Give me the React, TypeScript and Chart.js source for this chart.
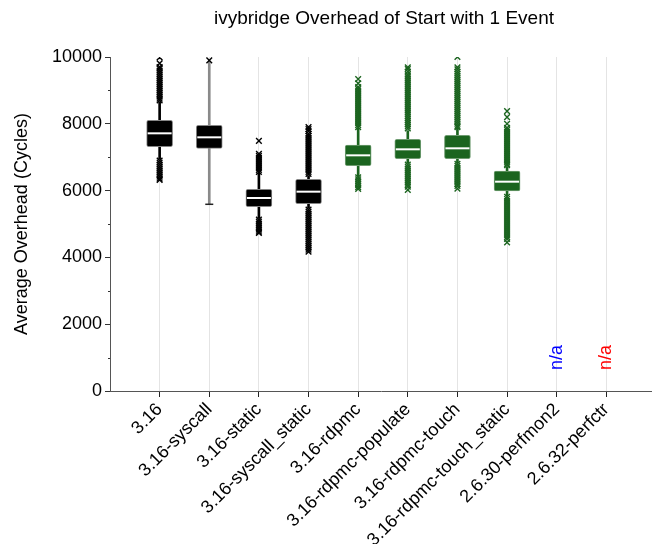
import React, { useEffect, useRef } from "react";
import { Chart, registerables } from "chart.js";

Chart.register(...registerables);

const categories = [
  "3.16",
  "3.16-syscall",
  "3.16-static",
  "3.16-syscall_static",
  "3.16-rdpmc",
  "3.16-rdpmc-populate",
  "3.16-rdpmc-touch",
  "3.16-rdpmc-touch_static",
  "2.6.30-perfmon2",
  "2.6.32-perfctr",
];

const q1 = [7315, 7265, 5518, 5608, 6746, 6955, 6955, 5988, null, null];
const medians = [7715, 7595, 5778, 5968, 7056, 7236, 7266, 6267, null, null];
const q3 = [8105, 7955, 6040, 6335, 7365, 7535, 7655, 6587, null, null];
const whiskerLow = [6940, 5590, 5170, 5470, 6437, 6817, 6836, 5848, null, null];
const whiskerHigh = [8660, 9880, 6520, 6450, 7864, 7794, 7864, 6716, null, null];

const outliers316 = [9990, 9810, 9700, 9650, 9590, 9530, 9470, 9410, 9350, 9290, 9230, 9170, 9110, 9050, 8990, 8930, 8870, 8810, 8750, 8700,
  6900, 6840, 6780, 6720, 6660, 6600, 6540, 6480, 6420, 6360, 6320];
const outliersSyscall = [9900];
const outliersStatic = [7490, 7100, 7040, 6980, 6920, 6860, 6800, 6740, 6680, 6620, 6560,
  5130, 5070, 5010, 4950, 4890, 4830, 4770, 4730];
const outliersSyscallStatic = [7900, 7840, 7780, 7700, 7640, 7580, 7520, 7460, 7400, 7340, 7280, 7220, 7160, 7100, 7040, 6980, 6920, 6860, 6800, 6740, 6680, 6620, 6560, 6500,
  5430, 5370, 5310, 5250, 5190, 5130, 5070, 5010, 4950, 4890, 4830, 4770, 4710, 4650, 4590, 4530, 4470, 4410, 4350, 4290, 4230, 4170];
const outliersRdpmc = [9340, 9210, 9100, 9040, 8980, 8920, 8860, 8800, 8740, 8680, 8620, 8560, 8500, 8440, 8380, 8320, 8260, 8200, 8140, 8080, 8020, 7960, 7900,
  6400, 6340, 6280, 6220, 6160, 6100, 6050];
const outliersPopulate = [9690, 9640, 9560, 9480, 9420, 9360, 9300, 9240, 9180, 9120, 9060, 9000, 8940, 8880, 8820, 8760, 8700, 8640, 8580, 8520, 8460, 8400, 8340, 8280, 8220, 8160, 8100, 8040, 7980, 7920, 7860,
  6780, 6720, 6660, 6600, 6540, 6480, 6420, 6360, 6300, 6240, 6180, 6120, 6020];
const outliersTouch = [10000, 9690, 9630, 9560, 9500, 9440, 9380, 9320, 9260, 9200, 9140, 9080, 9020, 8960, 8900, 8840, 8780, 8720, 8660, 8600, 8540, 8480, 8420, 8360, 8300, 8240, 8180, 8120, 8060, 8000, 7940, 7900,
  6800, 6740, 6680, 6620, 6560, 6500, 6440, 6380, 6320, 6260, 6200, 6140, 6060];
const outliersTouchStatic = [8380, 8200, 8000, 7880, 7820, 7760, 7700, 7640, 7580, 7520, 7460, 7400, 7340, 7280, 7220, 7160, 7100, 7040, 6980, 6920, 6860, 6800, 6760,
  5810, 5750, 5690, 5630, 5570, 5510, 5450, 5390, 5330, 5270, 5210, 5150, 5090, 5030, 4970, 4910, 4850, 4790, 4730, 4670, 4610, 4550, 4450];

const outlierGroupsBlack = [outliers316, outliersSyscall, outliersStatic, outliersSyscallStatic];
const outlierGroupsGreen = [outliersRdpmc, outliersPopulate, outliersTouch, outliersTouchStatic];

const naCategories = [8, 9];
const naText = ["n/a", "n/a"];

const yTicksMax = 10000;

const BLACK = "#000000";
const GREEN = "#1b641f";
const FONT = "'Liberation Sans', Arial, Helvetica, sans-serif";

export default function App() {
  const ref = useRef<HTMLCanvasElement | null>(null);

  useEffect(() => {
    if (!ref.current) return;
    const boxColor = (i: number) => (i < 4 ? BLACK : GREEN);
    const idx = categories.map((_, i) => i).filter((i) => q1[i] != null);

    const whiskerColor = (i: number) => (i === 1 ? "#8a8a8a" : boxColor(i));

    const boxes = idx.map((i) => ({ x: i + 1, y: [q1[i] as number, q3[i] as number] }));
    const upperW = idx.map((i) => ({ x: i + 1, y: [q3[i] as number, whiskerHigh[i] as number] }));
    const lowerW = idx.map((i) => ({ x: i + 1, y: [whiskerLow[i] as number, q1[i] as number] }));
    const meds = idx.map((i) => ({ x: i + 1, y: medians[i] as number }));
    const caps = [{ x: 2, y: whiskerLow[1] as number }];

    const blackPts: { x: number; y: number }[] = [];
    outlierGroupsBlack.forEach((arr, g) => arr.forEach((v) => blackPts.push({ x: g + 1, y: v })));
    const greenPts: { x: number; y: number }[] = [];
    outlierGroupsGreen.forEach((arr, g) => arr.forEach((v) => greenPts.push({ x: g + 5, y: v })));

    const extras = {
      id: "extras",
      afterDraw(chart: any) {
        const { ctx, chartArea, scales } = chart;
        const xs = scales.x;
        const ys = scales.y;
        ctx.save();
        // title
        ctx.fillStyle = "#000";
        ctx.font = `19px ${FONT}`;
        ctx.textAlign = "center";
        ctx.textBaseline = "middle";
        ctx.fillText("ivybridge Overhead of Start with 1 Event", (chartArea.left + chartArea.right) / 2 + 3, 19);
        // minor ticks
        ctx.strokeStyle = "#333";
        ctx.lineWidth = 1;
        for (let v = 1000; v < yTicksMax; v += 2000) {
          const y = Math.round(ys.getPixelForValue(v)) + 0.5;
          ctx.beginPath();
          ctx.moveTo(chartArea.left - 2, y);
          ctx.lineTo(chartArea.left, y);
          ctx.stroke();
        }
        // n/a labels
        const naColors = ["#0000ff", "#ff0000"];
        naCategories.forEach((c, k) => {
          const x = xs.getPixelForValue(c + 1);
          const y = ys.getPixelForValue(1000);
          ctx.save();
          ctx.translate(x, y);
          ctx.rotate(-Math.PI / 2);
          ctx.fillStyle = naColors[k];
          ctx.font = `18px ${FONT}`;
          ctx.textAlign = "center";
          ctx.textBaseline = "middle";
          ctx.fillText(naText[k], 0, 0);
          ctx.restore();
        });
        ctx.restore();
      },
    };

    const chart = new Chart(ref.current, {
      type: "bar",
      data: {
        datasets: [
          {
            type: "bar",
            data: upperW as any,
            backgroundColor: idx.map(whiskerColor),
            barThickness: 2,
            grouped: false,
            order: 6,
          } as any,
          {
            type: "bar",
            data: lowerW as any,
            backgroundColor: idx.map(whiskerColor),
            barThickness: 2,
            grouped: false,
            order: 6,
          } as any,
          {
            type: "bar",
            data: boxes as any,
            backgroundColor: idx.map(boxColor),
            borderColor: idx.map((i) => (i < 4 ? "#858585" : "#6f9c71")),
            borderWidth: 1,
            borderRadius: 2,
            borderSkipped: false,
            barThickness: 26,
            grouped: false,
            order: 5,
          } as any,
          {
            type: "line",
            data: meds as any,
            showLine: false,
            pointStyle: "line",
            pointRadius: 12,
            pointBorderColor: "#ffffff",
            pointBorderWidth: 2,
            order: 3,
          } as any,
          {
            type: "line",
            data: caps as any,
            showLine: false,
            pointStyle: "line",
            pointRadius: 4,
            pointBorderColor: "#222",
            pointBorderWidth: 1.5,
            order: 3,
          } as any,
          {
            type: "line",
            data: blackPts as any,
            showLine: false,
            pointStyle: "crossRot",
            pointRadius: 4,
            pointBorderColor: BLACK,
            pointBackgroundColor: BLACK,
            pointBorderWidth: 1.4,
            order: 2,
          } as any,
          {
            type: "line",
            data: greenPts as any,
            showLine: false,
            pointStyle: "crossRot",
            pointRadius: 4,
            pointBorderColor: GREEN,
            pointBackgroundColor: GREEN,
            pointBorderWidth: 1.4,
            order: 2,
          } as any,
        ],
      },
      options: {
        animation: false,
        responsive: false,
        events: [],
        layout: { autoPadding: false, padding: { top: 57, left: 0, right: 0, bottom: 0 } },
        plugins: { legend: { display: false }, tooltip: { enabled: false }, title: { display: false } },
        scales: {
          x: {
            type: "linear",
            min: 0,
            max: 10.92,
            offset: false,
            afterBuildTicks: (scale: any) => {
              scale.ticks = categories.map((_, i) => ({ value: i + 1 }));
            },
            afterFit: (scale: any) => {
              scale.height = 153;
              scale.paddingLeft = 0;
              scale.paddingRight = 0;
            },
            ticks: {
              autoSkip: false,
              maxRotation: 45,
              minRotation: 45,
              color: "#000",
              font: { family: FONT, size: 18 },
              padding: 2,
              callback: (v: any) => categories[Number(v) - 1] ?? "",
            },
            grid: { color: "#e4e4e4", lineWidth: 1, tickLength: 6, tickColor: "#222", offset: false },
            border: { display: true, color: "#555", width: 1 },
          },
          y: {
            type: "linear",
            min: 0,
            max: yTicksMax,
            afterFit: (scale: any) => {
              scale.width = 110;
            },
            ticks: {
              stepSize: 2000,
              color: "#000",
              font: { family: FONT, size: 18 },
              padding: 3,
              callback: (v: any) => String(v),
            },
            grid: { drawOnChartArea: false, tickLength: 5, tickColor: "#333" },
            border: { display: true, color: "#555", width: 1 },
            title: {
              display: true,
              text: "Average Overhead (Cycles)",
              color: "#000",
              font: { family: FONT, size: 18 },
              padding: { top: 11, bottom: 0 },
            },
          },
        },
      },
      plugins: [extras],
    });
    return () => chart.destroy();
  }, []);

  return (
    <div style={{ position: "absolute", left: 0, top: 0, width: 652, height: 544, background: "#fff" }}>
      <canvas ref={ref} width={652} height={544} style={{ display: "block" }} />
    </div>
  );
}
